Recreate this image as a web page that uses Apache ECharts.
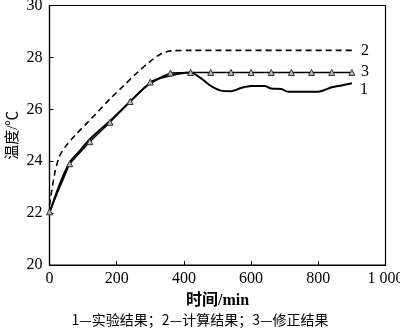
<!DOCTYPE html>
<html><head><meta charset="utf-8">
<script src="https://cdn.jsdelivr.net/npm/echarts@6/dist/echarts.min.js"></script>
<style>html,body{margin:0;padding:0;background:#fff}#c{width:400px;height:334px}</style>
</head><body><div id="c"></div>
<script>
// time (min), temperature (°C)
var expTime  = [0,30,60,90,120,180,240,280,300,330,360,390,420,450,480,510,540,570,600,640,660,690,710,800,840,870,900];
var expTemp  = [22.0,23.1,23.95,24.4,24.85,25.55,26.3,26.8,27.0,27.2,27.3,27.38,27.42,27.2,26.9,26.72,26.7,26.82,26.9,26.9,26.8,26.78,26.68,26.68,26.85,26.92,27.0];
var calcTime = [0,15,30,50,80,110,140,180,220,260,300,330,360,420,900];
var calcTemp = [22.3,23.5,24.2,24.6,25.05,25.45,25.85,26.4,26.9,27.4,27.85,28.12,28.25,28.27,28.27];
var corrTime = [0,60,120,180,240,300,360,420,480,540,600,660,720,780,840,900];
var corrTemp = [22.05,23.9,24.75,25.5,26.3,27.05,27.4,27.42,27.42,27.42,27.42,27.42,27.42,27.42,27.42,27.42];
var xTicks = [0,200,400,600,800,1000];
var yTicks = [20,22,24,26,28,30];
var seriesNames = ['1','2','3'];
var caption = '1—实验结果；2—计算结果；3—修正结果';

function zip(a,b){return a.map(function(v,i){return [v,b[i]];});}
var serif = '"Liberation Serif","Noto Sans CJK SC",serif';
var chart = echarts.init(document.getElementById('c'));
chart.setOption({
  animation:false,
  grid:{left:49.5,right:14.5,top:5.5,bottom:69,show:true,borderColor:'#000',borderWidth:1.2,
        containLabel:false,outerBoundsMode:'none'},
  xAxis:{type:'value',min:0,max:1000,interval:200,
    name:'时间/min',nameLocation:'middle',nameGap:28,nameMoveOverlap:false,
    nameTextStyle:{fontFamily:serif,fontSize:16,fontWeight:'bold',color:'#000'},
    axisLine:{lineStyle:{color:'#000',width:1.2}},
    axisTick:{inside:true,length:4,lineStyle:{color:'#000'}},
    axisLabel:{fontFamily:serif,fontSize:16,color:'#000',margin:6,hideOverlap:false,
      formatter:function(v){return v===1000?'1 000':String(v);}},
    splitLine:{show:false}},
  yAxis:{type:'value',min:20,max:30,interval:2,
    name:'温度/℃',nameLocation:'middle',nameGap:29,nameRotate:90,nameMoveOverlap:false,
    nameTextStyle:{fontFamily:serif,fontSize:15,color:'#000'},
    axisLine:{show:true,lineStyle:{color:'#000',width:1.2}},
    axisTick:{show:true,inside:true,length:4,lineStyle:{color:'#000'}},
    axisLabel:{fontFamily:serif,fontSize:16,color:'#000',margin:7},
    splitLine:{show:false}},
  graphic:[{type:'text',left:'center',top:313,style:{text:caption,font:'14px "Noto Sans CJK SC"',fill:'#000'}}],
  series:[
    {name:seriesNames[0],type:'line',data:zip(expTime,expTemp),showSymbol:false,smooth:0.3,
     lineStyle:{color:'#000',width:2},
     endLabel:{show:true,formatter:seriesNames[0],fontFamily:serif,fontSize:16,color:'#000',distance:8,offset:[0,6]}},
    {name:seriesNames[1],type:'line',data:zip(calcTime,calcTemp),showSymbol:false,smooth:0.3,
     lineStyle:{color:'#000',width:1.6,type:[6,4]},
     endLabel:{show:true,formatter:seriesNames[1],fontFamily:serif,fontSize:16,color:'#000',distance:9}},
    {name:seriesNames[2],type:'line',data:zip(corrTime,corrTemp),symbol:'triangle',symbolSize:6,
     itemStyle:{color:'#bbb',borderColor:'#333',borderWidth:1},
     lineStyle:{color:'#000',width:1.5},
     endLabel:{show:true,formatter:seriesNames[2],fontFamily:serif,fontSize:16,color:'#000',distance:9,offset:[0,-1]}}
  ]
});
</script></body></html>
